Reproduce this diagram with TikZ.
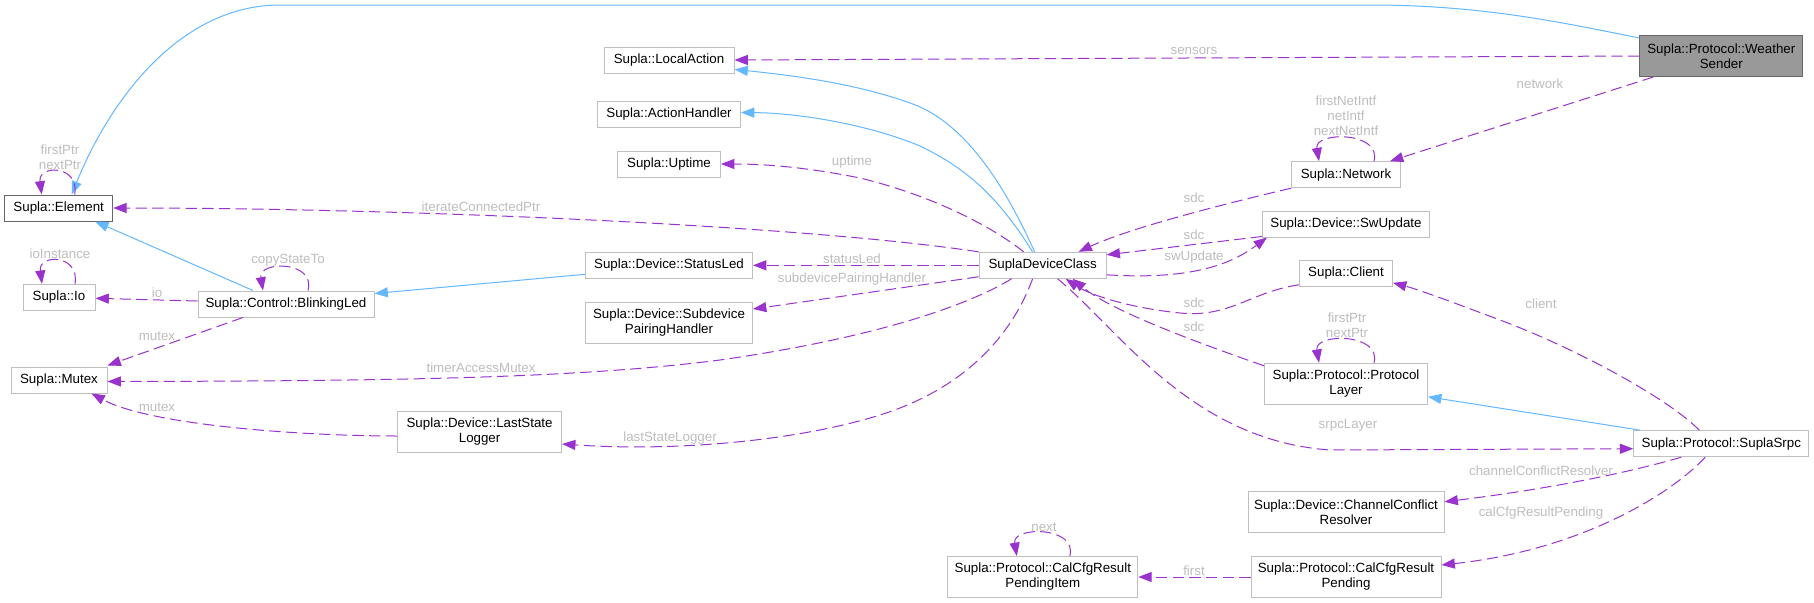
\documentclass[tikz,border=0pt]{standalone}
\usepackage{fontspec}
\setmainfont{Liberation Sans}
\usetikzlibrary{arrows.meta,calc}
\definecolor{inhblue}{HTML}{63B8FF}
\definecolor{usepurple}{HTML}{9A32CD}
\definecolor{lblgray}{HTML}{BEBEBE}
\definecolor{boxgray}{HTML}{BFBFBF}
\definecolor{darkbox}{HTML}{666666}
\definecolor{mainfill}{HTML}{999999}
\begin{document}
\begin{tikzpicture}[x=0.75pt,y=-0.75pt,
  cls/.style={draw=boxgray, line width=0.75pt, fill=white, inner sep=0pt, align=center,
    font=\fontsize{10}{11.25}\selectfont, minimum height=19.5pt},
  cls2/.style={cls, minimum height=30.75pt},
  docbox/.style={draw=darkbox},
  mainbox/.style={fill=mainfill, draw=darkbox},
  lbl/.style={text=lblgray, font=\fontsize{10}{11.25}\selectfont, inner sep=0pt, align=center},
  uses/.style={draw=usepurple, line width=0.75pt, dash pattern=on 8.5pt off 4pt,
    -{Triangle[length=10pt,width=7.5pt]}},
  inh/.style={draw=inhblue, line width=0.75pt, -{Triangle[length=10pt,width=7.5pt]}},
]
\fill[white] (0,0) rectangle (1814,603);
\useasboundingbox (0,0) rectangle (1814,603);

% nodes
\node[cls2,mainbox,minimum width=122.25pt] (ws) at (1721.3,56) {Supla::Protocol::Weather\\Sender};
\node[cls,minimum width=97.5pt] (la) at (669,60) {Supla::LocalAction};
\node[cls,minimum width=107.25pt] (ah) at (669,114.5) {Supla::ActionHandler};
\node[cls,minimum width=77.25pt] (up) at (669,164) {Supla::Uptime};
\node[cls,docbox,minimum width=81pt] (el) at (58.7,208) {Supla::Element};
\node[cls,minimum width=54pt] (io) at (59,297.3) {Supla::Io};
\node[cls,minimum width=132pt] (bl) at (286,304) {Supla::Control::BlinkingLed};
\node[cls,minimum width=125.25pt] (sl) at (669,265.3) {Supla::Device::StatusLed};
\node[cls2,minimum width=125.25pt] (sp) at (669,322.7) {Supla::Device::Subdevice\\PairingHandler};
\node[cls,minimum width=72pt] (mu) at (59,380) {Supla::Mutex};
\node[cls2,minimum width=123pt] (lsl) at (479.6,432) {Supla::Device::LastState\\Logger};
\node[cls,minimum width=95.25pt] (sdc) at (1042.6,265.3) {SuplaDeviceClass};
\node[cls,minimum width=81.75pt] (net) at (1346,174.7) {Supla::Network};
\node[cls,minimum width=125.25pt] (sw) at (1346,224) {Supla::Device::SwUpdate};
\node[cls,minimum width=69.75pt] (cl) at (1346,273.3) {Supla::Client};
\node[cls2,minimum width=122.25pt] (pl) at (1346,383.8) {Supla::Protocol::Protocol\\Layer};
\node[cls,minimum width=131.25pt] (srpc) at (1721.3,443.7) {Supla::Protocol::SuplaSrpc};
\node[cls2,minimum width=147pt] (ccr) at (1346,511.8) {Supla::Device::ChannelConflict\\Resolver};
\node[cls2,minimum width=142.5pt] (cp) at (1346,577) {Supla::Protocol::CalCfgResult\\Pending};
\node[cls2,minimum width=142.5pt] (cpi) at (1042.8,577) {Supla::Protocol::CalCfgResult\\PendingItem};

% inheritance (blue)
\draw[inh] ($(ws.north west)+(0,3)$) .. controls (1560,22) and (1480,5) .. (1370,5) -- (280,5)
  .. controls (180,5) and (110,100) .. ($(el.north)+(13,0)$);
\draw[inh] ($(sdc.north)+(-8,0)$) .. controls (1000,175) and (960,120) .. (910,103)
  .. controls (860,85) and (800,76) .. ($(la.south east)+(0,-4)$);
\draw[inh] ($(sdc.north)+(-10,0)$) .. controls (1000,200) and (970,170) .. (920,146)
  .. controls (870,125) and (800,113) .. ($(ah.east)+(0,-2)$);
\draw[inh] ($(sl.west)+(0,9)$) -- ($(bl.north east)+(0,3)$);
\draw[inh] ($(bl.north)+(-33,0)$) -- ($(el.south east)+(-18,0)$);
\draw[inh] ($(srpc.north west)+(7,0)$) -- ($(pl.east)+(0,13)$);

% usage (purple dashed)
\draw[uses] (ws.west) -- (la.east);
\draw[uses] ($(ws.south west)+(14,0)$) -- ($(net.north east)+(-11,0)$);
\draw[uses] ($(net.north)+(28,0)$) .. controls +(8,-30) and +(-5,-30) .. ($(net.north)+(-27,0)$);
\draw[uses] ($(sdc.north)+(-19,0)$) .. controls (990,225) and (930,195) .. (860,178)
  .. controls (800,166) and (760,164) .. (up.east);
\draw[uses] (sdc.north west) .. controls (800,225) and (400,208) .. (el.east);
\draw[uses] (sdc.west) -- (sl.east);
\draw[uses] ($(sdc.south west)+(0,-2)$) -- ($(sp.east)+(0,-13.7)$);
\draw[uses] ($(sdc.south)+(-31,0)$) .. controls (960,310) and (860,340) .. (720,360)
  .. controls (580,378) and (400,381) .. ($(mu.east)+(0,1.5)$);
\draw[uses] ($(sdc.south)+(-10,0)$) .. controls (1010,340) and (960,390) .. (880,415)
  .. controls (800,440) and (680,452) .. ($(lsl.east)+(0,12)$);
\draw[uses] ($(lsl.west)+(0,4)$) .. controls (300,436) and (150,425) .. ($(mu.south east)+(-16,0)$);
\draw[uses] ($(bl.south)+(-43,0)$) -- ($(mu.north east)+(0,-1)$);
\draw[uses] ($(bl.west)+(0,-3)$) -- ($(io.east)+(0,1)$);
\draw[uses] ($(bl.north)+(22,0)$) .. controls +(8,-30) and +(-5,-30) .. ($(bl.north)+(-23,0)$);
\draw[uses] ($(io.north)+(16,0)$) .. controls +(5,-30) and +(-4,-30) .. ($(io.north)+(-17,0)$);
\draw[uses] ($(el.north)+(16,0)$) .. controls +(5,-30) and +(-4,-30) .. ($(el.north)+(-17,0)$);
\draw[uses] (net.south west) .. controls (1220,205) and (1130,228) .. ($(sdc.north east)+(-28,0)$);
\draw[uses] ($(sw.south west)+(0,-1)$) -- ($(sdc.north east)+(0,3)$);
\draw[uses] ($(sdc.south east)+(0,-4)$) .. controls (1190,280) and (1230,265) .. ($(sw.south west)+(5,0)$);
\draw[uses] ($(cl.south west)+(0,-2)$) .. controls (1250,292) and (1230,318) .. (1180,313)
  .. controls (1130,308) and (1090,295) .. ($(sdc.south)+(23,0)$);
\draw[uses] ($(pl.north west)+(0,3)$) .. controls (1190,340) and (1110,310) .. ($(sdc.south)+(30,0)$);
\draw[uses] ($(sdc.south)+(15,0)$) .. controls (1120,330) and (1190,440) .. (1330,450)
  -- ($(srpc.west)+(0,5)$);
\draw[uses] ($(pl.north)+(28,0)$) .. controls +(8,-30) and +(-5,-30) .. ($(pl.north)+(-27,0)$);
\draw[uses] ($(srpc.north)+(-22,0)$) .. controls (1670,400) and (1580,350) .. (1500,320)
  .. controls (1460,305) and (1420,290) .. ($(cl.south east)+(0,-4)$);
\draw[uses] ($(srpc.south)+(-40,0)$) .. controls (1620,475) and (1540,490) .. ($(ccr.east)+(0,-10)$);
\draw[uses] ($(srpc.south)+(-16,0)$) .. controls (1670,495) and (1580,550) .. ($(cp.east)+(0,-12)$);
\draw[uses] (cp.west) -- (cpi.east);
\draw[uses] ($(cpi.north)+(27,0)$) .. controls +(8,-30) and +(-5,-30) .. ($(cpi.north)+(-26,0)$);

% labels
\node[lbl] (lsens) at (1194,51) {sensors};
\node[lbl] (lnet) at (1540,84) {network};
\node[lbl] (lnetloop) at (1346,116) {firstNetIntf\\netIntf\\nextNetIntf};
\node[lbl] (lup) at (852,162) {uptime};
\node[lbl] (liter) at (481,207) {iterateConnectedPtr};
\node[lbl] (lstat) at (852,258.5) {statusLed};
\node[lbl] (lsub) at (852,279) {subdevicePairingHandler};
\node[lbl] (ltimer) at (481,367.5) {timerAccessMutex};
\node[lbl] (llast) at (670,438.5) {lastStateLogger};
\node[lbl] (lmutex2) at (157,407) {mutex};
\node[lbl] (lmutex1) at (157,336) {mutex};
\node[lbl] (lio) at (157,293) {io};
\node[lbl] (lioinst) at (60,254) {ioInstance};
\node[lbl] (lcopy) at (288,260.5) {copyStateTo};
\node[lbl] (lelloop) at (60,157) {firstPtr\\nextPtr};
\node[lbl] (lsdc1) at (1194,198) {sdc};
\node[lbl] (lsdc2) at (1194,234.5) {sdc};
\node[lbl] (lswu) at (1194,257.5) {swUpdate};
\node[lbl] (lsdc3) at (1194,303) {sdc};
\node[lbl] (lsdc4) at (1194,327) {sdc};
\node[lbl] (lplloop) at (1347,325) {firstPtr\\nextPtr};
\node[lbl] (lclient) at (1541,304) {client};
\node[lbl] (lsrpc) at (1348,425) {srpcLayer};
\node[lbl] (lccr) at (1541,471) {channelConflictResolver};
\node[lbl] (lcalp) at (1541,513.5) {calCfgResultPending};
\node[lbl] (lfirst) at (1194,570.5) {first};
\node[lbl] (lnext) at (1044,527) {next};
\end{tikzpicture}
\end{document}
